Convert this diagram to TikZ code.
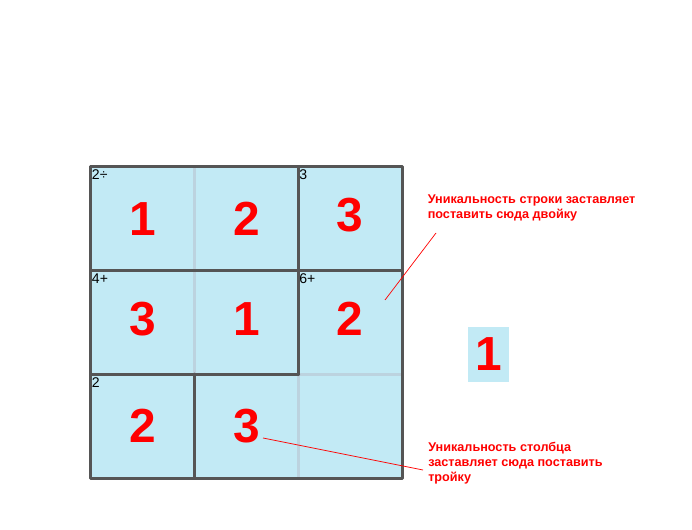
\documentclass[tikz,border=0pt]{standalone}
\usepackage{fontspec}
\setmainfont{Liberation Sans}
\usetikzlibrary{positioning}
\definecolor{cellblue}{HTML}{C2EAF5}
\definecolor{cagegray}{HTML}{555555}
\definecolor{innergray}{HTML}{BCD3DF}
\definecolor{markred}{HTML}{FF0000}
\tikzset{
  cell/.style={rectangle, fill=cellblue, minimum width=2.5925cm, minimum height=2.5925cm, inner sep=0pt, text=markred, font=\fontsize{34}{34}\selectfont\bfseries},
  cage/.style={cagegray, line width=2.1pt, line cap=round, line join=round},
  inner/.style={innergray, line width=2.1pt},
  clue/.style={anchor=north west, inner xsep=0.7pt, inner ysep=2.1pt, font=\fontsize{10}{10}\selectfont},
  note/.style={anchor=base west, inner sep=0pt, align=left, text=markred, font=\fontsize{9}{10.7}\selectfont\bfseries},
  pointer/.style={markred, line width=0.5pt}
}

\begin{document}
\begin{tikzpicture}[x=0.025cm, y=-0.025cm]
    \useasboundingbox (0,0) rectangle (692,530);

    % Celdas del tablero 3x3 (columna/fila/cifra/subida)
    \foreach \col/\row/\num/\dy in {
        1/1/1/0, 2/1/2/0, 3/1/3/3,
        1/2/3/2.8, 2/2/1/2.8, 3/2/2/2.8,
        1/3/2/0, 2/3/3/0, 3/3//0
    } {
        \node[cell] (c\row\col) at ({91+(\col-0.5)*103.7}, {167+(\row-0.5)*103.7}) {\raisebox{\dy pt}[\height][\depth]{\num}};
    }

    % Lineas finas dentro de los bloques
    \draw[inner] (c12.north west) -- (c22.south west);
    \draw[inner] (c33.north west) -- (c33.south west);
    \draw[inner] (c33.north west) -- (c33.north east);

    % Bordes de los bloques
    \draw[cage] (c11.north west) rectangle (c33.south east);
    \draw[cage] (c21.north west) -- (c23.north east);
    \draw[cage] (c31.north west) -- (c32.north east);
    \draw[cage] (c32.north west) -- (c32.south west);
    \draw[cage] (c13.north west) -- (c23.south west);

    % Pistas de los bloques
    \node[clue] (k11) at (c11.north west) {2÷};
    \node[clue] (k13) at (c13.north west) {3};
    \node[clue] (k21) at (c21.north west) {4+};
    \node[clue] (k23) at (c23.north west) {6+};
    \node[clue] (k31) at (c31.north west) {2};

    % Cifra suelta a la derecha
    \node[cell, minimum width=1.025cm, minimum height=1.375cm] (spare) at (488.5, 354.5) {1};

    % Notas y lineas (base = ultima linea)
    \node[note] (rownote) at (427.5, 218.3) {Уникальность строки заставляет\\поставить сюда двойку};
    \node[note] (colnote) at (428, 481.7) {Уникальность столбца\\заставляет сюда поставить\\тройку};

    \coordinate (rowfrom) at (436, 233);
    \coordinate (rowtip) at (385, 300);
    \coordinate (colfrom) at (423, 470);
    \coordinate (coltip) at (263, 438);
    \draw[pointer] (rowfrom) -- (rowtip);
    \draw[pointer] (colfrom) -- (coltip);

\end{tikzpicture}
\end{document}
